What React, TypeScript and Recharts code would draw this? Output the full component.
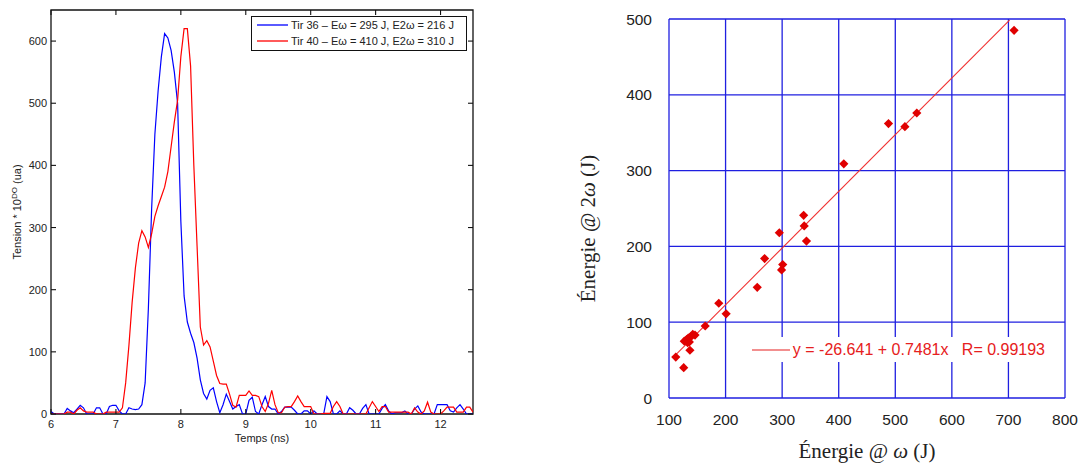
import React from 'react';
import { LineChart, Line, XAxis, YAxis, ScatterChart, Scatter, CartesianGrid, Legend, Label, ReferenceArea } from 'recharts';

// pulse traces, sampled every 0.05 ns from 6 ns
const T_START = 6;
const T_STEP = 0.05;

const tir36: number[] = [
  4, 0, 0, 0, 0, 9, 5, 2, 8, 14,
  10, 0, 0, 0, 10, 10, 0, 0, 12, 14,
  14, 5, 0, 0, 10, 8, 7, 8, 15, 50,
  170, 330, 450, 520, 575, 612, 605, 585, 550, 500,
  310, 190, 148, 130, 115, 90, 55, 33, 24, 38,
  42, 20, 2, 15, 32, 20, 8, 12, 15, 0,
  0, 22, 27, 4, 0, 15, 28, 12, 8, 8,
  0, 4, 11, 11, 11, 6, 0, 0, 5, 5,
  0, 5, 0, 0, 0, 28, 20, 0, 0, 5,
  0, 0, 10, 6, 0, 0, 9, 15, 0, 0,
  0, 0, 9, 15, 5, 0, 2, 2, 2, 5,
  0, 0, 8, 13, 3, 0, 0, 0, 0, 15,
  15, 15, 15, 5, 3, 10, 15, 8, 0, 0,
  0,
];

const tir40: number[] = [
  0, 0, 0, 0, 0, 3, 3, 0, 6, 10,
  5, 3, 3, 3, 0, 0, 0, 3, 3, 3,
  3, 3, 10, 50, 110, 180, 235, 275, 295, 285,
  268, 290, 318, 335, 350, 365, 390, 430, 470, 505,
  575, 620, 620, 560, 400, 270, 140, 111, 118, 108,
  85, 62, 49, 48, 48, 32, 14, 11, 30, 30,
  30, 37, 30, 30, 28, 12, 4, 17, 38, 15,
  2, 2, 11, 12, 12, 20, 29, 20, 12, 12,
  12, 0, 0, 0, 1, 1, 1, 12, 20, 12,
  0, 0, 0, 0, 0, 0, 0, 0, 10, 20,
  12, 4, 12, 12, 3, 3, 3, 3, 3, 3,
  3, 0, 10, 3, 0, 5, 19, 3, 0, 0,
  0, 5, 11, 11, 11, 3, 3, 3, 11, 11,
  3,
];

const timeTicks = [6, 7, 8, 9, 10, 11, 12];
const tensionTicks = [0, 100, 200, 300, 400, 500, 600];

// energy measurements (J)
const energyOmega = [710, 488, 517, 538, 409, 338, 339, 343, 295, 269, 301, 299, 256, 188, 201, 164, 112, 126, 137, 127, 131, 134, 136, 139, 142, 146, 133];
const energy2Omega = [485, 362, 358, 376, 309, 241, 227, 207, 218, 184, 176, 169, 146, 125, 111, 95, 54, 40, 63, 75, 77, 79, 74, 81, 84, 83, 73];
const energyXTicks = [100, 200, 300, 400, 500, 600, 700, 800];
const energyYTicks = [0, 100, 200, 300, 400, 500];

// linear fit shown in the legend
const FIT_A = -26.641;
const FIT_B = 0.7481;
const FIT_R = 0.99193;
const fitRange = [110, 702];

const pulseData = tir36.map((v, i) => ({
  t: +(T_START + i * T_STEP).toFixed(2),
  tir36: v,
  tir40: tir40[i],
}));

const shots = energyOmega.map((x, i) => ({ x, y: energy2Omega[i] }));
const fitData = fitRange.map((x) => ({ x, y: FIT_A + FIT_B * x }));

const SANS = '"Liberation Sans", Arial, Helvetica, sans-serif';
const SERIF = '"Liberation Serif", "Times New Roman", serif';

// plot box of the pulse chart (inside the 490x467 svg)
const P_LEFT = 51;
const P_RIGHT = 473;
const P_TOP = 10;
const P_BOTTOM = 414;
const TICK_LEN = 5;

// labels plus inward tick marks on both opposite sides (matlab style box)
const TimeTick = ({ x, payload }: any) => (
  <g>
    <line x1={x} x2={x} y1={P_BOTTOM} y2={P_BOTTOM - TICK_LEN} stroke="#111" strokeWidth={1.1} />
    <line x1={x} x2={x} y1={P_TOP} y2={P_TOP + TICK_LEN} stroke="#111" strokeWidth={1.1} />
    <text x={x} y={P_BOTTOM + 14} textAnchor="middle" fontSize={11} fill="#222" fontFamily={SANS}>{payload.value}</text>
  </g>
);

const TensionTick = ({ y, payload }: any) => (
  <g>
    <line x1={P_LEFT} x2={P_LEFT + TICK_LEN} y1={y} y2={y} stroke="#111" strokeWidth={1.1} />
    <line x1={P_RIGHT} x2={P_RIGHT - TICK_LEN} y1={y} y2={y} stroke="#111" strokeWidth={1.1} />
    <text x={P_LEFT - 4} y={y + 4} textAnchor="end" fontSize={11} fill="#222" fontFamily={SANS}>{payload.value}</text>
  </g>
);

const PulseYLabel = ({ viewBox }: any) => {
  const cx = viewBox.x + 10;
  const cy = viewBox.y + viewBox.height / 2;
  return (
    <text x={cx} y={cy} transform={`rotate(-90 ${cx} ${cy})`} textAnchor="middle" fontSize={11} fill="#222" fontFamily={SANS}>
      Tension * 10<tspan dy={-4} fontSize={8}>DO</tspan>
      <tspan dy={4}> (ua)</tspan>
    </text>
  );
};

const PulseXLabel = ({ viewBox }: any) => (
  <text x={viewBox.x + viewBox.width / 2} y={viewBox.y + 28} textAnchor="middle" fontSize={11} fill="#222" fontFamily={SANS}>
    Temps (ns)
  </text>
);

const PulseLegend = () => (
  <div style={{ width: 216, height: 35, border: '1.5px solid #111', background: '#fff', fontFamily: SANS, fontSize: 11, color: '#222', boxSizing: 'border-box' }}>
    {[
      { color: '#0000ff', text: 'Tir 36 – Eω = 295 J, E2ω = 216 J' },
      { color: '#ff0000', text: 'Tir 40 – Eω = 410 J, E2ω = 310 J' },
    ].map((it) => (
      <div key={it.text} style={{ display: 'flex', alignItems: 'center', height: 16, paddingLeft: 5 }}>
        <svg width={31} height={4} style={{ marginRight: 3 }}>
          <line x1={0} x2={31} y1={2} y2={2} stroke={it.color} strokeWidth={1.3} />
        </svg>
        <span>{it.text}</span>
      </div>
    ))}
  </div>
);

const EnergyYLabel = ({ viewBox }: any) => {
  const cx = viewBox.x - 14;
  const cy = viewBox.y + viewBox.height / 2 + 20;
  return (
    <text x={cx} y={cy} transform={`rotate(-90 ${cx} ${cy})`} textAnchor="middle" fontSize={21} fill="#222" fontFamily={SERIF}>
      Énergie @ 2<tspan fontStyle="italic">ω</tspan> (J)
    </text>
  );
};

const EnergyXLabel = ({ viewBox }: any) => (
  <text x={viewBox.x + viewBox.width / 2} y={viewBox.y + 60} textAnchor="middle" fontSize={21} fill="#222" fontFamily={SERIF}>
    Énergie @ <tspan fontStyle="italic">ω</tspan> (J)
  </text>
);

const FitLegend = () => (
  <div style={{ width: 295, height: 25, background: '#fff', display: 'flex', alignItems: 'center', fontFamily: SANS, fontSize: 16, color: '#e62020', whiteSpace: 'pre' }}>
    <svg width={39} height={4} style={{ marginLeft: 2, marginRight: 3 }}>
      <line x1={0} x2={39} y1={2} y2={2} stroke="#e62020" strokeWidth={1.1} />
    </svg>
    <span>{`y = ${FIT_A} + ${FIT_B}x   R= ${FIT_R}`}</span>
  </div>
);

const Diamond = (props: any) => {
  const { cx, cy } = props;
  const r = 4.6;
  return <path d={`M${cx},${cy - r}L${cx + r},${cy}L${cx},${cy + r}L${cx - r},${cy}Z`} fill="#e00000" />;
};

export default function App() {
  return (
    <div style={{ position: 'absolute', left: 0, top: 0, width: 1091, height: 467, background: '#fff' }}>
      <div style={{ position: 'absolute', left: 0, top: 0 }}>
        <LineChart width={490} height={467} data={pulseData} margin={{ top: P_TOP, right: 490 - P_RIGHT, bottom: 23, left: 11 }}>
          <ReferenceArea x1={6} x2={12.5} y1={0} y2={650} fill="none" stroke="#111" strokeWidth={1.3} ifOverflow="visible" />
          <XAxis dataKey="t" type="number" domain={[6, 12.5]} ticks={timeTicks} allowDataOverflow interval={0}
            height={30} tickSize={0} axisLine={false} tickLine={false} tick={<TimeTick />}>
            <Label content={PulseXLabel} />
          </XAxis>
          <YAxis type="number" domain={[0, 650]} ticks={tensionTicks} allowDataOverflow interval={0}
            width={40} tickSize={0} axisLine={false} tickLine={false} tick={<TensionTick />}>
            <Label content={PulseYLabel} />
          </YAxis>
          <Line dataKey="tir36" type="linear" stroke="#0000ff" strokeWidth={1.2} dot={false} isAnimationActive={false} />
          <Line dataKey="tir40" type="linear" stroke="#ff0000" strokeWidth={1.2} dot={false} isAnimationActive={false} />
          <Legend layout="horizontal" verticalAlign="middle" align="center" content={PulseLegend}
            wrapperStyle={{ top: 16, left: 251, width: 216, height: 35 }} />
        </LineChart>
      </div>
      <div style={{ position: 'absolute', left: 560, top: 0 }}>
        <ScatterChart width={531} height={467} margin={{ top: 19, right: 26, bottom: 29, left: 49 }}>
          <CartesianGrid stroke="#1f1fe0" strokeWidth={1.3} />
          <XAxis dataKey="x" type="number" domain={[100, 800]} ticks={energyXTicks} allowDataOverflow
            height={40} axisLine={false} tickLine={false} tickMargin={10}
            tick={{ fill: '#222', fontSize: 15.5, fontFamily: SANS }}>
            <Label content={EnergyXLabel} />
          </XAxis>
          <YAxis dataKey="y" type="number" domain={[0, 500]} ticks={energyYTicks} allowDataOverflow
            width={60} axisLine={false} tickLine={false} tickMargin={11}
            tick={{ fill: '#222', fontSize: 15.5, fontFamily: SANS }}>
            <Label content={EnergyYLabel} />
          </YAxis>
          <Scatter data={fitData} fill="#f03030" stroke="#f03030" line={{ stroke: '#f03030', strokeWidth: 1.1 }} shape={() => <g />} legendType="none" isAnimationActive={false} />
          <Scatter data={shots} fill="#e00000" shape={Diamond} isAnimationActive={false} />
          <Legend layout="horizontal" verticalAlign="middle" align="center" content={FitLegend}
            wrapperStyle={{ top: 337, left: 190, width: 295, height: 25 }} />
        </ScatterChart>
      </div>
    </div>
  );
}
